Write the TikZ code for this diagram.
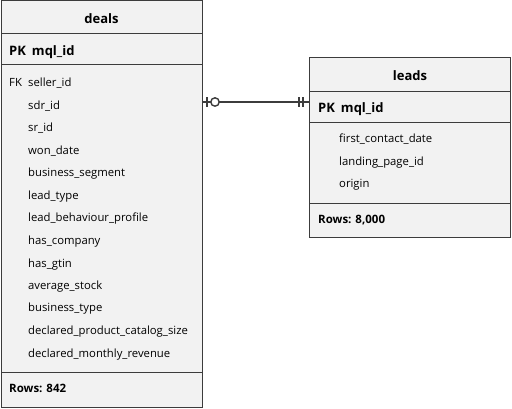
\documentclass[tikz,border=0pt]{standalone}
\usepackage{fontspec}
\setmainfont{Open Sans}
\usetikzlibrary{arrows.meta}
\definecolor{boxfill}{RGB}{242,242,242}
\definecolor{boxline}{RGB}{60,60,60}

\tikzset{
    part/.style={draw=boxline, fill=boxfill, line width=1pt, rectangle, minimum width=201pt, inner sep=0pt},
    title/.style={inner sep=0pt, text height=12pt, text depth=0pt, font=\fontsize{13}{15}\selectfont\bfseries},
    keyfield/.style={anchor=west, inner sep=0pt, text height=12pt, text depth=0pt, font=\fontsize{13}{15}\selectfont\bfseries},
    field/.style={anchor=west, inner sep=0pt, text height=12pt, text depth=0pt, font=\fontsize{11.3}{13}\selectfont},
    rows/.style={anchor=west, inner sep=0pt, text height=12pt, text depth=0pt, font=\fontsize{11.5}{13}\selectfont\bfseries},
    link/.style={draw=boxline, line width=1.8pt}
}

\begin{document}
\begin{tikzpicture}[x=1pt, y=-1pt]
        \useasboundingbox (0,0) rectangle (512,409);

        % deals table
        \node[part, minimum height=33pt] (dealshead) at (101.5,17.5) {};
        \node[part, minimum height=31pt] (dealspk) at (101.5,49.5) {};
        \node[part, minimum height=307pt] (dealsbody) at (101.5,218.5) {};
        \node[part, minimum height=35pt] (dealsfoot) at (101.5,389.5) {};
        \node[title] (dealsname) at (dealshead) {deals};
        \node[keyfield] (dealskey) at (9,50) {PK\hspace{6pt}mql\_id};
        \node[field] (dealsfk) at (9,81) {FK};
        \node[field] (sellerid) at (28,81) {seller\_id};
        \node[field] (sdrid) at (28,103.5) {sdr\_id};
        \node[field] (srid) at (28,126) {sr\_id};
        \node[field] (wondate) at (28,148.5) {won\_date};
        \node[field] (segment) at (28,171) {business\_segment};
        \node[field] (leadtype) at (28,193.5) {lead\_type};
        \node[field] (behaviour) at (28,216) {lead\_behaviour\_profile};
        \node[field] (company) at (28,238.5) {has\_company};
        \node[field] (gtin) at (28,261) {has\_gtin};
        \node[field] (stock) at (28,283.5) {average\_stock};
        \node[field] (btype) at (28,306) {business\_type};
        \node[field] (catalog) at (28,328.5) {declared\_product\_catalog\_size};
        \node[field] (revenue) at (28,351) {declared\_monthly\_revenue};
        \node[rows] (dealsrows) at (9,386) {Rows: 842};

        % leads table
        \node[part, minimum height=34pt] (leadshead) at (410,75) {};
        \node[part, minimum height=31pt] (leadspk) at (410,107.5) {};
        \node[part, minimum height=81pt] (leadsbody) at (410,163.5) {};
        \node[part, minimum height=34pt] (leadsfoot) at (410,221) {};
        \node[title] (leadsname) at (leadshead) {leads};
        \node[keyfield] (leadskey) at (318,107) {PK\hspace{6pt}mql\_id};
        \node[field] (firstcontact) at (339,137) {first\_contact\_date};
        \node[field] (landing) at (339,159.5) {landing\_page\_id};
        \node[field] (origin) at (339,182) {origin};
        \node[rows] (leadsrows) at (318,218) {Rows: 8,000};

        % relation
        \coordinate (dealsend) at (dealsbody.east |- 0,102);
        \coordinate (leadsend) at (leadspk.west |- 0,102);
        \draw[link] (dealsend) -- (leadsend);
        \draw[link, line width=1.4pt] ([xshift=4.5pt, yshift=-5pt]dealsend) -- ([xshift=4.5pt, yshift=5pt]dealsend);
        \draw[link, line width=1.4pt, fill=white] ([xshift=12.5pt]dealsend) circle (4.2pt);
        \draw[link, line width=1.4pt] ([xshift=-10pt, yshift=-5pt]leadsend) -- ([xshift=-10pt, yshift=5pt]leadsend);
        \draw[link, line width=1.4pt] ([xshift=-6pt, yshift=-5pt]leadsend) -- ([xshift=-6pt, yshift=5pt]leadsend);
    \end{tikzpicture}
\end{document}
